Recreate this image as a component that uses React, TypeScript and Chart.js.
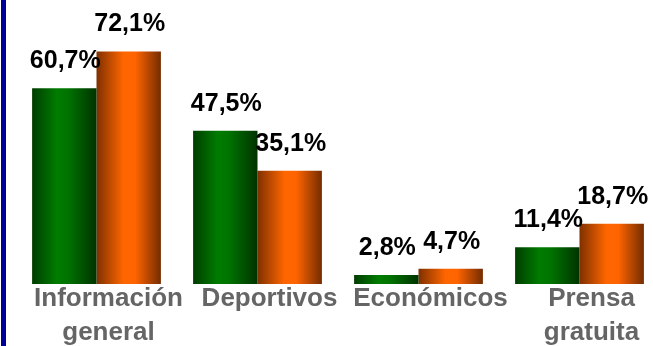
import React, { useEffect, useRef } from "react";
import { Chart, registerables } from "chart.js";

Chart.register(...registerables);

const categories: (string | string[])[] = [
  ["Información", "general"],
  "Deportivos",
  "Económicos",
  ["Prensa", "gratuita"],
];
const seriesGreen = [60.7, 47.5, 2.8, 11.4];
const seriesOrange = [72.1, 35.1, 4.7, 18.7];

const greenStops: [number, string][] = [
  [0, "#003d00"],
  [0.38, "#007c00"],
  [0.55, "#007400"],
  [1, "#003300"],
];
const orangeStops: [number, string][] = [
  [0, "#7f3000"],
  [0.42, "#ff6600"],
  [0.6, "#ff6400"],
  [1, "#742c00"],
];

const gradientPlugin = {
  id: "barGradient",
  beforeDatasetsDraw(chart: any) {
    const ctx = chart.ctx;
    chart.data.datasets.forEach((ds: any, di: number) => {
      const meta = chart.getDatasetMeta(di);
      const stops = di === 0 ? greenStops : orangeStops;
      meta.data.forEach((bar: any) => {
        const { x, width } = bar.getProps(["x", "width"], true);
        const g = ctx.createLinearGradient(x - width / 2, 0, x + width / 2, 0);
        stops.forEach(([o, c]) => g.addColorStop(o, c));
        bar.options = { ...bar.options, backgroundColor: g };
      });
    });
  },
};

const valueLabelPlugin = {
  id: "valueLabels",
  afterDatasetsDraw(chart: any) {
    const ctx = chart.ctx;
    ctx.save();
    ctx.font = "bold 25px 'Liberation Sans', Arial, sans-serif";
    ctx.fillStyle = "#000000";
    ctx.textAlign = "center";
    ctx.textBaseline = "alphabetic";
    chart.data.datasets.forEach((ds: any, di: number) => {
      const meta = chart.getDatasetMeta(di);
      meta.data.forEach((bar: any, i: number) => {
        const v = ds.data[i] as number;
        const txt = v.toFixed(1).replace(".", ",") + "%";
        ctx.fillText(txt, bar.x + 1, bar.y - 20);
      });
    });
    ctx.restore();
  },
};

const borderPlugin = {
  id: "leftBorder",
  afterDraw(chart: any) {
    const ctx = chart.ctx;
    ctx.save();
    ctx.fillStyle = "#000099";
    ctx.fillRect(1, 0, 5, chart.height);
    ctx.restore();
  },
};

export default function App() {
  const ref = useRef<HTMLCanvasElement | null>(null);
  useEffect(() => {
    if (!ref.current) return;
    const chart = new Chart(ref.current, {
      type: "bar",
      data: {
        labels: categories,
        datasets: [
          { label: "A", data: seriesGreen, backgroundColor: "#007c00", borderWidth: 0 },
          { label: "B", data: seriesOrange, backgroundColor: "#ff6600", borderWidth: 0 },
        ],
      },
      options: {
        responsive: false,
        animation: false,
        layout: { padding: { left: 16, right: 0, top: 26, bottom: 0 } },
        plugins: { legend: { display: false }, tooltip: { enabled: false } },
        datasets: { bar: { categoryPercentage: 0.8, barPercentage: 1.0 } },
        scales: {
          x: {
            grid: { display: false, drawTicks: false },
            border: { display: false },
            ticks: {
              color: "#656565",
              font: { family: "'Liberation Sans', Arial, sans-serif", size: 26, weight: "bold", lineHeight: 1.3 },
              padding: -2,
              labelOffset: 12,
              maxRotation: 0,
              autoSkip: false,
            },
            afterFit: (scale: any) => {
              scale.height = 62;
            },
          },
          y: {
            display: false,
            min: 0,
            max: 80,
          },
        },
      },
      plugins: [gradientPlugin, valueLabelPlugin, borderPlugin],
    });
    return () => chart.destroy();
  }, []);
  return (
    <div style={{ position: "absolute", left: 0, top: 0, width: 653, height: 346, overflow: "hidden", background: "#ffffff" }}>
      <canvas ref={ref} width={660} height={346} style={{ display: "block" }} />
    </div>
  );
}
